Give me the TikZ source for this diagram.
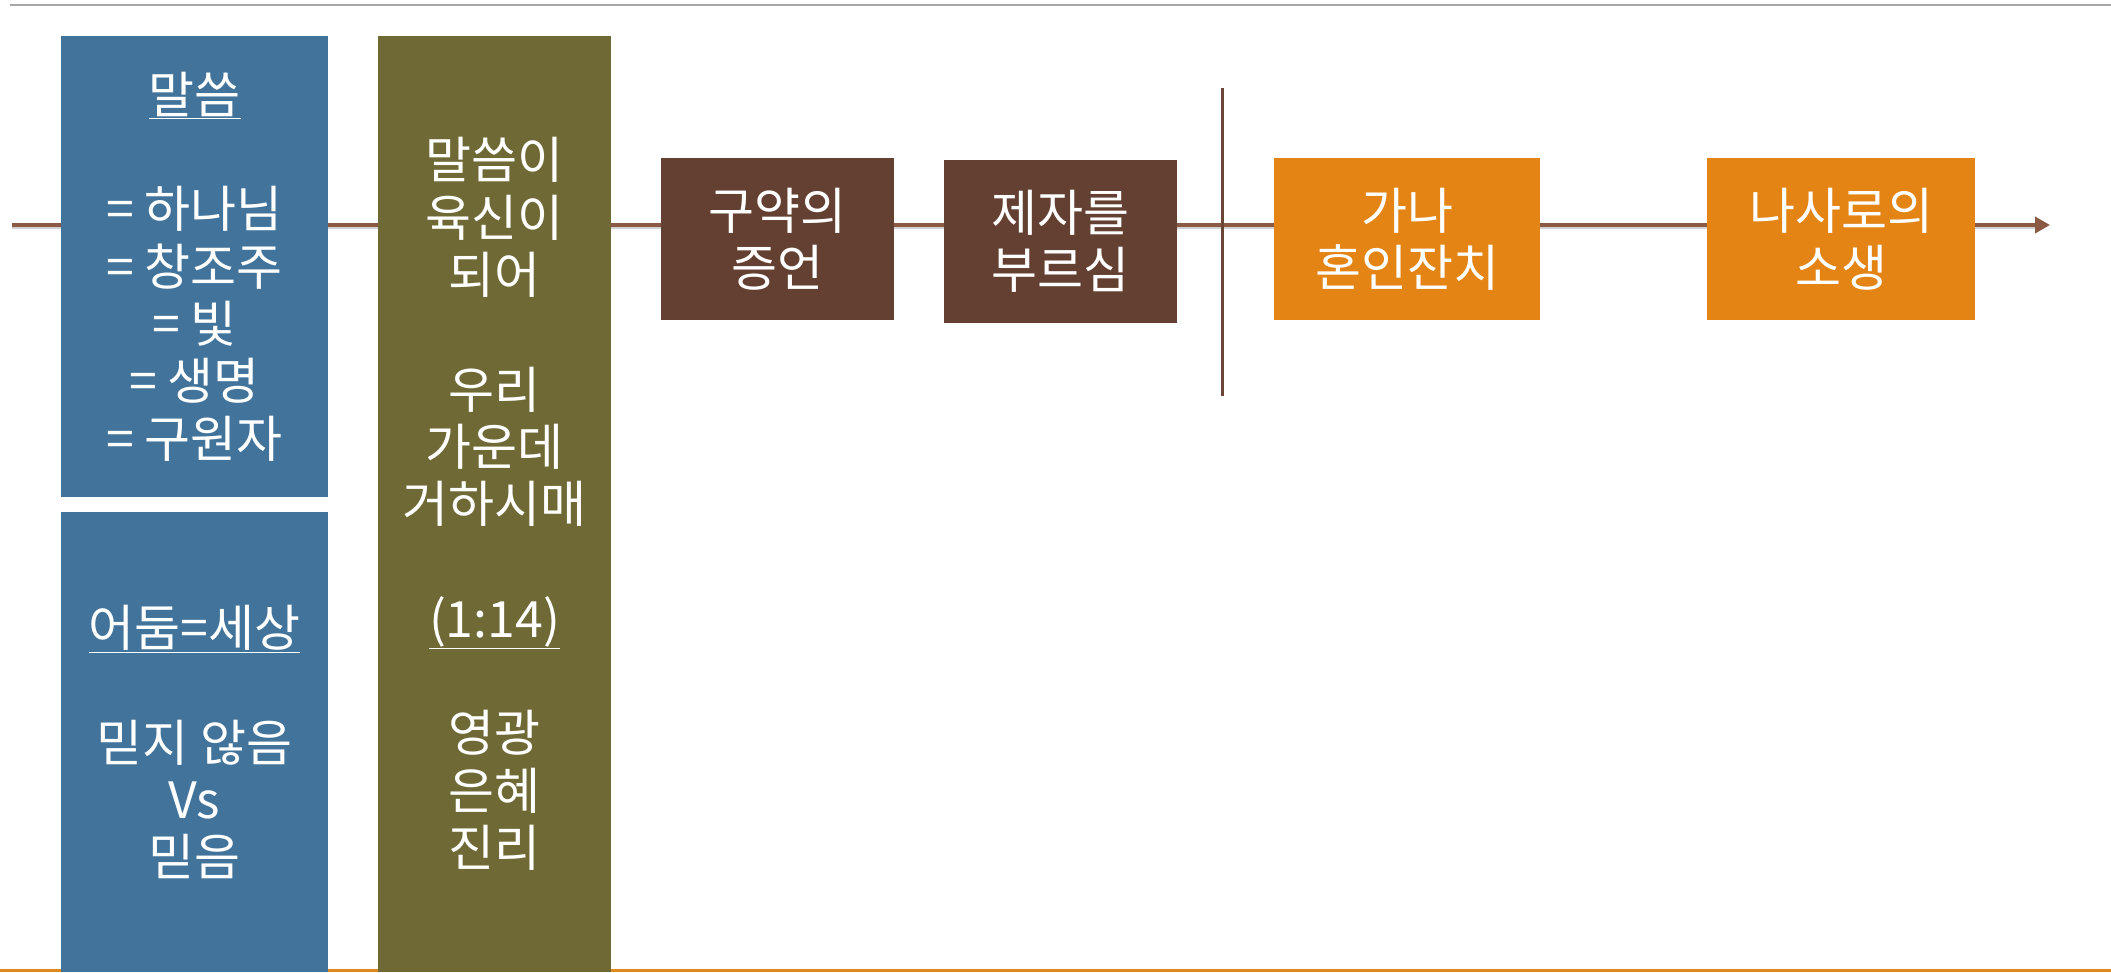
\documentclass[tikz,border=0pt]{standalone}
\usepackage{fontspec}
\usetikzlibrary{arrows.meta}
\newfontfamily\kr{Noto Sans CJK KR}
\definecolor{cblue}{HTML}{41739B}
\definecolor{colive}{HTML}{6E6935}
\definecolor{cbrown}{HTML}{634032}
\definecolor{corange}{HTML}{E38414}
\definecolor{cline}{HTML}{8B5A44}
\definecolor{cvline}{HTML}{6B4535}
\definecolor{ctop}{HTML}{A6A6A6}
\definecolor{cbottom}{HTML}{E08A1E}
\tikzset{
  box/.style={rectangle, inner sep=0pt, align=center, text=white,
    font={\kr\fontsize{50}{57.3}\selectfont}},
}
\begin{document}
\begin{tikzpicture}[x=1pt,y=-1pt]
\useasboundingbox (0,0) rectangle (2111,972);
\fill[white] (0,0) rectangle (2111,972);
% top and bottom rules
\coordinate (tl) at (10,5);
\coordinate (tr) at (2111,5);
\draw[ctop, line width=2pt] (tl) -- (tr);
\coordinate (bl) at (0,970);
\coordinate (br) at (2111,970);
\draw[cbottom, line width=3pt] (bl) -- (br);
% timeline
\coordinate (start) at (12,225);
\coordinate (end) at (2050,225);
\draw[black!18, line width=2pt] ([yshift=-3pt]start) -- ([xshift=-14pt,yshift=-3pt]end);
\draw[cline, line width=4pt, -{Triangle[length=15pt,width=16pt]}] (start) -- (end);
% vertical divider
\coordinate (vt) at (1222,88);
\coordinate (vb) at (1222,396);
\draw[cvline, line width=3pt] (vt) -- (vb);
% boxes
\node[box, fill=cblue, minimum width=267pt, minimum height=461pt] (b1) at (194.5,266.5)
  {\underline{말씀}\\[57.3pt]= 하나님\\= 창조주\\= 빛\\= 생명\\= 구원자};
\node[box, fill=cblue, minimum width=267pt, minimum height=460pt] (b2) at (194.5,742)
  {\underline{어둠=세상}\\[57.3pt]믿지 않음\\Vs\\믿음};
\node[box, fill=colive, minimum width=233pt, minimum height=936pt] (ol) at (494.5,504)
  {말씀이\\육신이\\되어\\[57.3pt]우리\\가운데\\거하시매\\[57.3pt]\underline{(1:14)}\\[57.3pt]영광\\은혜\\진리};
\node[box, fill=cbrown, minimum width=233pt, minimum height=162pt] (br1) at (777.5,239)
  {구약의\\증언};
\node[box, fill=cbrown, minimum width=233pt, minimum height=163pt] (br2) at (1060.5,241.5)
  {제자를\\부르심};
\node[box, fill=corange, minimum width=266pt, minimum height=162pt] (or1) at (1407,239)
  {가나\\혼인잔치};
\node[box, fill=corange, minimum width=268pt, minimum height=162pt] (or2) at (1841,239)
  {나사로의\\소생};
\end{tikzpicture}
\end{document}
